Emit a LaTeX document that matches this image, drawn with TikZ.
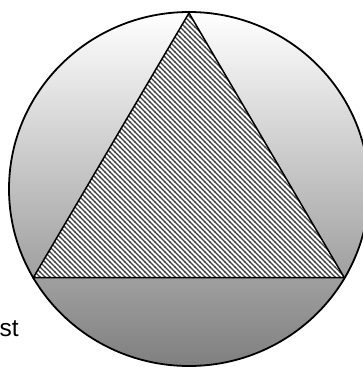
\documentclass[tikz,border=0pt]{standalone}
\usepackage{fontspec}
\setmainfont{Liberation Sans}
\usetikzlibrary{patterns}
\pgfdeclarepatternformonly{hatchnw}{\pgfqpoint{-1pt}{-1pt}}{\pgfqpoint{6pt}{6pt}}{\pgfqpoint{5pt}{5pt}}{%
  \pgfsetlinewidth{1.4pt}%
  \pgfpathmoveto{\pgfqpoint{-0.5pt}{5.5pt}}%
  \pgfpathlineto{\pgfqpoint{5.5pt}{-0.5pt}}%
  \pgfusepath{stroke}}
\tikzset{
  discstyle/.style={line width=1.8pt, draw=black, top color=white, bottom color=black!50},
  triback/.style={fill=white},
  trihatch/.style={pattern=hatchnw, pattern color=black!75},
  triedge/.style={line width=1.5pt, draw=black, line join=miter},
  labelstyle/.style={font=\fontsize{24.5}{28}\selectfont, inner sep=0pt}
}
\begin{document}
\begin{tikzpicture}[x=1pt,y=-1pt]
\useasboundingbox (0,0) rectangle (363,367);
\fill[white] (0,0) rectangle (363,367);
\coordinate (O) at (189,189);
\path[discstyle] (O) ellipse [x radius=180, y radius=177];
\coordinate (A) at (189,13);
\coordinate (B) at (33.3,277.7);
\coordinate (C) at (344.3,277.7);
\fill[triback] (A) -- (B) -- (C) -- cycle;
\fill[trihatch] (A) -- (B) -- (C) -- cycle;
\draw[triedge] (A) -- (B) -- (C) -- cycle;
\node[labelstyle, anchor=base west] (lbl) at (-0.5,336.7) {st};
\end{tikzpicture}
\end{document}
